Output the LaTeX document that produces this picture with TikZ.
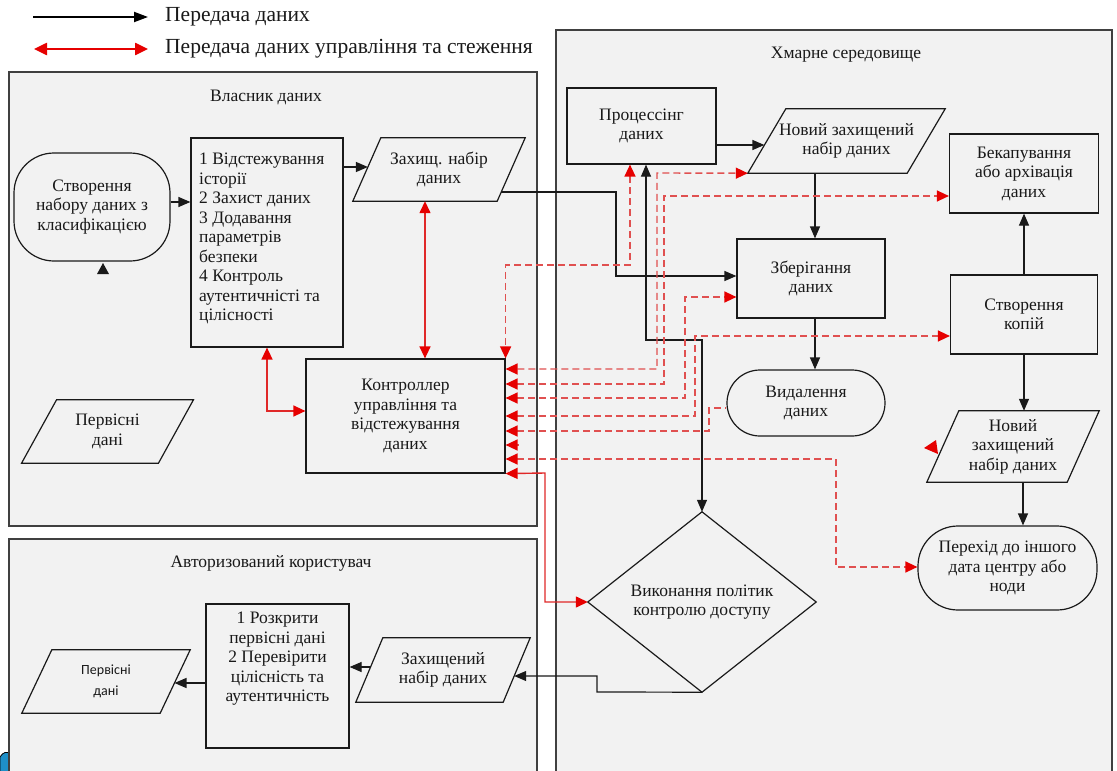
\documentclass[tikz,border=0pt]{standalone}
\usepackage{fontspec}
\setmainfont{Liberation Serif}
\newfontfamily\carlitofont{Carlito}
\usetikzlibrary{arrows.meta,calc}
\definecolor{panelgray}{HTML}{F2F2F2}
\definecolor{arrred}{HTML}{E60000}
\definecolor{dashred}{HTML}{E05050}
\definecolor{solred}{HTML}{E02828}
\definecolor{lineblk}{HTML}{1A1A1A}
\definecolor{cornerblue}{HTML}{1E8FC8}
\newcommand{\paradraw}[2]{\draw[shapeline] ([xshift=#2/2]#1.north west) -- ([xshift=#2/2]#1.north east) -- ([xshift=-#2/2]#1.south east) -- ([xshift=-#2/2]#1.south west) -- cycle;}
\tikzset{
  rtip/.tip={Triangle[length=12pt,width=11pt,color=arrred]},
  btip/.tip={Triangle[length=12pt,width=10pt,color=lineblk]},
}
\begin{document}
\begin{tikzpicture}[x=1pt,y=-1pt,
  txt/.style={font=\fontsize{17.5}{19.5}\selectfont, align=center, inner sep=0pt, text=black!90},
  legtxt/.style={font=\fontsize{21.5}{24}\selectfont, inner sep=0pt, text=black!90},
  shapeline/.style={draw=lineblk, line width=1.2pt},
  box/.style={txt, shapeline, rectangle},
  ptext/.style={txt, rectangle},
  panel/.style={draw=black!75, line width=1.2pt, fill=panelgray, rectangle, inner sep=0pt},
  blk/.style={draw=lineblk, line width=1.2pt, -btip},
  blkboth/.style={draw=lineblk, line width=1.2pt, btip-btip},
  rsol/.style={draw=solred, line width=1.4pt, rtip-rtip},
  rdash/.style={draw=dashred, line width=1.4pt, dash pattern=on 7pt off 4pt, rtip-rtip},
]
\useasboundingbox (0,0) rectangle (1117,771);
\fill[white] (0,0) rectangle (1117,771);

% corner decoration
\filldraw[fill=cornerblue, draw=black, line width=0.8pt] (0,757) .. controls (3,752) and (7,751) .. (10,754) -- (10,775) -- (0,775) -- cycle;

% legend
\coordinate (l1a) at (33,17);
\coordinate (l1b) at (148,17);
\draw[draw=black, line width=2pt, -{Triangle[length=14pt,width=10pt]}] (l1a) -- (l1b);
\node[legtxt, anchor=west] (l1t) at (165,17) {Передача даних};
\coordinate (l2a) at (34,49);
\coordinate (l2b) at (148,49);
\draw[draw=arrred, line width=2.5pt, {Triangle[length=13pt,width=12pt]}-{Triangle[length=13pt,width=12pt]}] (l2a) -- (l2b);
\node[legtxt, anchor=west] (l2t) at (165,49) {Передача даних управління та стеження};

% panels
\node[panel, minimum width=528pt, minimum height=454pt] (owner) at (273,299) {};
\node[panel, minimum width=528pt, minimum height=250pt] (user) at (273,664) {};
\node[panel, minimum width=556pt, minimum height=760pt] (cloud) at (834,410) {};
\node[txt] (ownert) at (266,97) {Власник даних};
\node[txt] (usert) at (271,563) {Авторизований користувач};
\node[txt] (cloudt) at (846,55) {Хмарне середовище};

% owner nodes
\node[box, rounded corners=40pt, minimum width=156pt, minimum height=108pt] (create) at (92,207) {Створення\\набору даних з\\класифікацією};
\fill[lineblk] (97,274) -- (109,274) -- (103,263) -- cycle;
\node[box, minimum width=152pt, minimum height=209pt] (steps) at (267,242.5) {};
\node[txt, align=left, anchor=north west] (stepst) at (199,153) {1 Відстежування\\історії\\2 Захист даних\\3 Додавання\\параметрів\\безпеки\\4 Контроль\\аутентичністі та\\цілісності};
\node[ptext, minimum width=144pt, minimum height=63pt] (zn) at (439,169.5) {Захищ. набір\\даних};
\paradraw{zn}{28}
\node[box, minimum width=199pt, minimum height=114pt] (ctrl) at (405.5,416) {Контроллер\\управління та\\відстежування\\даних};
\node[ptext, minimum width=136.5pt, minimum height=63pt] (pd1) at (107.5,431.5) {Первісні\\дані};
\paradraw{pd1}{35}

% cloud nodes
\node[box, minimum width=149pt, minimum height=76pt] (proc) at (641.5,126) {Процессінг\\даних};
\node[ptext, minimum width=159pt, minimum height=64pt] (nz1) at (846.5,141) {Новий захищений\\набір даних};
\paradraw{nz1}{38}
\node[box, minimum width=149pt, minimum height=79pt] (backup) at (1024,173.5) {Бекапування\\або архівація\\даних};
\node[box, minimum width=148pt, minimum height=79pt] (store) at (811,278.5) {Зберігання\\даних};
\node[box, minimum width=147pt, minimum height=79pt] (copies) at (1024,314.5) {Створення\\копій};
\node[box, rounded corners=33pt, minimum width=158pt, minimum height=66pt] (del) at (806,403) {Видалення\\даних};
\node[ptext, minimum width=140pt, minimum height=71pt] (nz2) at (1013,446.5) {Новий\\захищений\\набір даних};
\paradraw{nz2}{32}
\node[box, rounded corners=40pt, minimum width=179pt, minimum height=84pt] (move) at (1007.5,568) {Перехід до іншого\\дата центру або\\ноди};
\node[ptext, minimum width=228pt, minimum height=180pt] (dia) at (702,602) {Виконання політик\\контролю доступу};
\draw[shapeline] (dia.north) -- (dia.east) -- (dia.south) -- (dia.west) -- cycle;
\fill[arrred] (924,448) -- (936,440) -- (938,454) -- cycle;

% user nodes
\node[box, minimum width=143pt, minimum height=144pt] (reveal) at (277.5,676) {};
\node[txt] (revealt) at (277.5,659) {1 Розкрити\\первісні дані\\2 Перевірити\\цілісність та\\аутентичність};
\node[ptext, minimum width=147pt, minimum height=64pt] (zn2) at (443,670) {Захищений\\набір даних};
\paradraw{zn2}{27}
\node[ptext, font=\carlitofont\fontsize{14}{21}\selectfont, minimum width=138pt, minimum height=63pt] (pd2) at (106,681.5) {Первісні\\дані};
\paradraw{pd2}{30}

% black connectors
\draw[blk] ([yshift=5pt]create.east) -- ([yshift=40.5pt]steps.west);
\draw[blk] ([yshift=75.5pt]steps.east) -- ([shift={(1.1pt,2.5pt)}]zn.west);
\draw[blk] ([shift={(-10pt,-22.5pt)}]zn.east) -- (616,192) |- ([yshift=2.5pt]store.west);
\draw[blkboth] ([xshift=4.5pt]proc.south) -- (646,340) -| (dia.north);
\draw[blk] ([yshift=-19pt]proc.east) -- ([shift={(-2.4pt,-4pt)}]nz1.west);
\draw[blk] ([xshift=-31.5pt]nz1.south) -- ([xshift=4pt]store.north);
\draw[blk] ([xshift=4pt]store.south) -- ([xshift=9pt]del.north);
\draw[blk] (copies.north) -- (backup.south);
\draw[blk] (copies.south) -- ([xshift=11pt]nz2.north);
\draw[blk] ([xshift=10pt]nz2.south) -- ([xshift=15.5pt]move.north);
\draw[blk] (dia.south) -- (597,692) |- ([shift={(-2.5pt,-6pt)}]zn2.east);
\draw[blk] ([shift={(1.3pt,3pt)}]zn2.west) -- ([yshift=9pt]reveal.east);
\draw[blk] ([yshift=-7pt]reveal.west) -- ([shift={(-0.7pt,-1.5pt)}]pd2.east);

% red connectors
\draw[rsol] ([xshift=-14pt]zn.south) -- ([xshift=19.5pt]ctrl.north);
\draw[rsol] (steps.south) |- ([yshift=5pt]ctrl.west);
\draw[rsol] (ctrl.south east) -- (545,473) |- (dia.west);
\draw[rdash] ([xshift=-11.5pt]proc.south) -- (630,265) -| (ctrl.north east);
\draw[rdash] ([yshift=47pt]ctrl.east) -| (657,173) -- ([xshift=-19pt]nz1.south west);
\draw[rdash] ([yshift=32pt]ctrl.east) -| (664,196) -- ([yshift=-22.5pt]backup.west);
\draw[rdash] ([yshift=18pt]ctrl.east) -| (685,297) -- ([yshift=-18.5pt]store.west);
\draw[rdash] (ctrl.east) -| (695,336) -- ([yshift=-21.5pt]copies.west);
\draw[rdash, rtip-] ([yshift=-15pt]ctrl.east) -| (709,408) -- ([yshift=-5pt]del.west);
\draw[rdash, rtip-] ([yshift=-29pt]ctrl.east) -- ++(13,0);
\draw[rdash] ([yshift=-43pt]ctrl.east) -| (836,567) -- ([yshift=1pt]move.west);
\end{tikzpicture}
\end{document}
